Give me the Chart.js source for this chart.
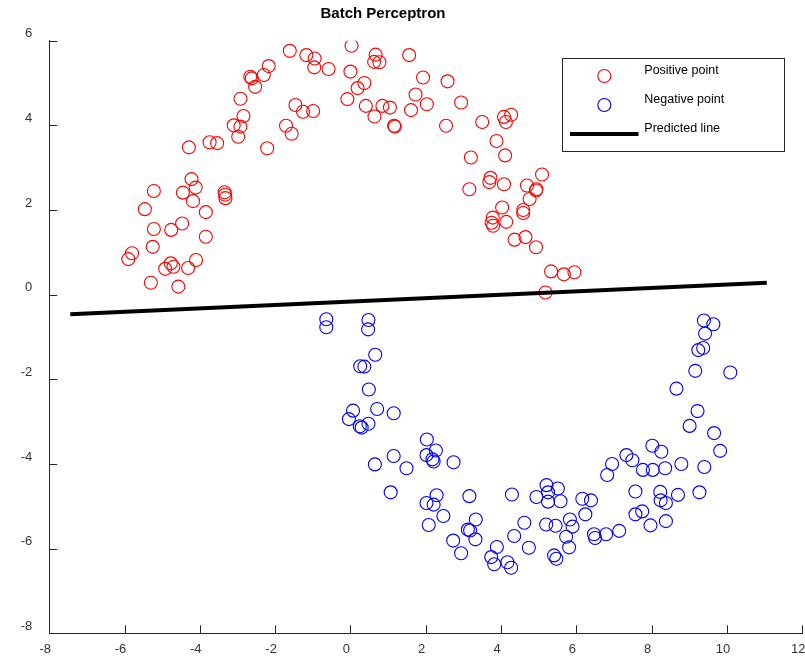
<!DOCTYPE html>
<html>
<head>
<meta charset="utf-8">
<title>Batch Perceptron</title>
<script src="https://cdn.jsdelivr.net/npm/chart.js@4.4.1/dist/chart.umd.min.js"></script>
<style>
  html, body { margin: 0; padding: 0; background: #ffffff; }
  #wrap { width: 805px; height: 658px; }
</style>
</head>
<body>
<div id="wrap"><canvas id="chart" width="805" height="658"></canvas></div>
<script>
// Positive class samples (upper moon)
const posX = [-5.90,-5.80,-5.30,-4.57,-4.92,-4.77,-4.70,-4.31,-4.10,-5.25,
              -5.22,-4.76,-4.47,-3.84,-3.84,-5.46,-5.22,-4.45,-4.22,-4.11,
              -4.18,-3.34,-3.33,-3.32,-4.29,-3.74,-3.54,-3.10,-2.92,-2.98,
              -2.84,-2.92,-2.66,-2.62,-2.53,-2.30,-2.17,-2.21,-1.61,-1.17,
              -0.95,-0.96,-0.58,-1.71,-1.56,-1.46,-1.26,-0.99,0.03,0.00,
              0.19,0.37,-0.08,0.41,0.64,0.67,0.63,0.77,0.85,1.05,
              1.16,1.18,1.56,1.93,2.58,1.73,1.61,2.03,2.94,2.54,
              3.50,4.08,4.27,4.13,3.88,3.20,4.11,5.09,3.72,3.69,
              4.08,4.69,4.94,4.93,4.76,3.16,4.03,4.59,4.59,3.78,
              3.75,3.79,4.14,4.36,4.65,4.93,5.33,5.67,5.95,5.18];
const posY = [0.84,0.98,0.28,0.19,0.61,0.74,0.66,0.63,0.82,1.13,
              1.55,1.53,1.68,1.37,1.95,2.02,2.45,2.41,2.73,2.53,
              2.21,2.42,2.36,2.28,3.48,3.60,3.58,4.00,3.97,3.73,
              4.22,4.63,5.15,5.11,4.91,5.19,5.40,3.46,5.76,5.66,
              5.58,5.37,5.33,3.99,3.80,4.48,4.32,4.34,5.88,5.27,
              4.88,5.00,4.62,4.46,4.21,5.67,5.50,5.49,4.46,4.42,
              3.99,3.97,5.66,5.13,5.04,4.73,4.36,4.50,4.54,3.99,
              4.08,4.20,4.25,4.08,3.63,3.24,3.29,2.84,2.76,2.66,
              2.61,2.58,2.49,2.46,2.26,2.49,2.06,2.00,1.93,1.82,
              1.70,1.63,1.72,1.30,1.36,1.12,0.55,0.48,0.53,0.05];

// Negative class samples (lower moon)
const negX = [-0.64,-0.64,0.48,0.47,0.66,0.26,0.37,0.49,0.07,-0.04,
              0.71,1.15,0.48,0.25,0.30,1.15,0.65,1.07,2.03,2.02,
              2.27,2.18,2.21,1.49,2.74,2.29,2.02,2.21,2.47,2.08,
              3.16,3.33,3.12,3.18,3.32,2.73,2.94,4.29,4.62,4.35,
              4.74,3.89,3.74,3.82,4.17,4.27,5.21,5.51,4.94,5.25,
              5.25,5.58,5.20,5.45,5.73,5.81,5.41,5.47,5.83,5.90,
              6.16,6.39,6.24,6.47,6.50,6.79,7.14,6.82,6.95,7.33,
              7.49,7.77,8.03,8.02,8.26,8.36,8.79,7.57,8.23,8.24,
              8.38,8.70,9.27,9.40,9.82,9.66,9.01,9.22,8.66,9.16,
              10.09,9.24,9.37,9.42,9.39,9.64,7.57,7.75,7.97,8.38];
const negY = [-0.58,-0.77,-0.60,-0.82,-1.42,-1.69,-1.70,-2.24,-2.74,-2.94,
              -2.70,-2.80,-3.05,-3.11,-3.14,-3.81,-4.01,-4.67,-3.42,-3.79,
              -3.68,-3.89,-3.94,-4.10,-3.96,-4.74,-4.92,-4.96,-5.23,-5.44,
              -4.76,-5.31,-5.55,-5.57,-5.78,-5.81,-6.11,-4.72,-5.39,-5.70,
              -5.98,-5.96,-6.20,-6.37,-6.32,-6.45,-4.50,-4.58,-4.78,-4.67,
              -4.89,-4.88,-5.43,-5.46,-5.72,-5.97,-6.16,-6.24,-5.31,-5.48,
              -4.82,-4.86,-5.19,-5.66,-5.75,-5.66,-5.58,-4.26,-4.00,-3.79,
              -3.91,-4.14,-4.14,-3.57,-3.71,-4.10,-4.00,-4.65,-4.66,-4.86,
              -4.92,-4.73,-4.67,-4.07,-3.69,-3.27,-3.10,-2.75,-2.22,-1.80,
              -1.84,-1.31,-1.26,-0.92,-0.61,-0.70,-5.19,-5.12,-5.45,-5.35];

// Decision boundary found by the batch perceptron (end points)
const lineX = [-7.44, 11.06];
const lineY = [-0.46, 0.28];

// Axis ticks
const xTicks = [-8, -6, -4, -2, 0, 2, 4, 6, 8, 10, 12];
const yTicks = [-8, -6, -4, -2, 0, 2, 4, 6];

const titleText = 'Batch Perceptron';
const seriesNames = ['Positive point', 'Negative point', 'Predicted line'];

const FONT = "'Liberation Sans', Arial, Helvetica, sans-serif";
const AXIS_COLOR = '#262626';
const RED = '#ff0000';
const BLUE = '#0000ff';
const MARK_R = 6.5;

const zip = (xs, ys) => xs.map((v, i) => ({ x: v, y: ys[i] }));

// keep the axis boxes at a fixed size with no extra room for end labels
function fixBox(s, w, h) {
  if (w != null) s.width = w;
  if (h != null) s.height = h;
  s.paddingLeft = 0;
  s.paddingRight = 0;
  s.paddingTop = 0;
  s.paddingBottom = 0;
}

// Inward tick marks, title and the boxed legend
const decorations = {
  id: 'decorations',
  afterDraw(chart) {
    const { ctx, chartArea: a, scales: { x, y } } = chart;
    ctx.save();

    // tick marks pointing into the plot
    ctx.strokeStyle = AXIS_COLOR;
    ctx.lineWidth = 1;
    ctx.beginPath();
    xTicks.forEach(v => {
      const p = Math.round(x.getPixelForValue(v)) + 0.5;
      ctx.moveTo(p, a.bottom);
      ctx.lineTo(p, a.bottom - 8);
    });
    yTicks.forEach(v => {
      const p = Math.round(y.getPixelForValue(v)) + 0.5;
      ctx.moveTo(a.left, p);
      ctx.lineTo(a.left + 8, p);
    });
    ctx.stroke();

    // title
    ctx.fillStyle = '#000000';
    ctx.font = 'bold 15px ' + FONT;
    ctx.textAlign = 'center';
    ctx.textBaseline = 'middle';
    ctx.fillText(titleText, 383, 14);

    // legend box
    const box = { left: 562.5, top: 58.5, right: 784.5, bottom: 151.5 };
    ctx.fillStyle = '#ffffff';
    ctx.fillRect(box.left, box.top, box.right - box.left, box.bottom - box.top);
    ctx.strokeStyle = AXIS_COLOR;
    ctx.lineWidth = 1;
    ctx.strokeRect(box.left, box.top, box.right - box.left, box.bottom - box.top);

    const ds = chart.data.datasets;
    const rows = [
      { ds: ds.find(d => d.label === seriesNames[0]), markY: 76, textY: 71 },
      { ds: ds.find(d => d.label === seriesNames[1]), markY: 105, textY: 100 },
      { ds: ds.find(d => d.label === seriesNames[2]), markY: 134, textY: 129 }
    ];
    rows.forEach(r => {
      ctx.strokeStyle = r.ds.borderColor;
      ctx.lineWidth = r.ds.borderWidth;
      ctx.beginPath();
      if (r.ds.showLine) {
        ctx.moveTo(570, r.markY);
        ctx.lineTo(638.5, r.markY);
      } else {
        ctx.arc(604.3, r.markY, MARK_R, 0, Math.PI * 2);
      }
      ctx.stroke();
      ctx.fillStyle = '#000000';
      ctx.font = '12.5px ' + FONT;
      ctx.textAlign = 'left';
      ctx.textBaseline = 'middle';
      ctx.fillText(r.ds.label, 644.3, r.textY);
    });

    ctx.restore();
  }
};

new Chart(document.getElementById('chart'), {
  type: 'scatter',
  data: {
    datasets: [
      {
        label: seriesNames[2],
        data: zip(lineX, lineY),
        showLine: true,
        borderColor: '#000000',
        backgroundColor: '#000000',
        borderWidth: 4,
        pointRadius: 0,
        order: 0
      },
      {
        label: seriesNames[0],
        data: zip(posX, posY),
        pointStyle: 'circle',
        pointRadius: MARK_R,
        pointHoverRadius: MARK_R,
        borderColor: RED,
        backgroundColor: 'rgba(0,0,0,0)',
        borderWidth: 1.1,
        order: 1
      },
      {
        label: seriesNames[1],
        data: zip(negX, negY),
        pointStyle: 'circle',
        pointRadius: MARK_R,
        pointHoverRadius: MARK_R,
        borderColor: BLUE,
        backgroundColor: 'rgba(0,0,0,0)',
        borderWidth: 1.1,
        order: 2
      }
    ]
  },
  options: {
    responsive: false,
    animation: false,
    devicePixelRatio: 1,
    layout: { autoPadding: false, padding: { top: 40.7, right: 2.8, bottom: 0, left: 0 } },
    plugins: {
      legend: { display: false },
      title: { display: false },
      tooltip: { enabled: false }
    },
    scales: {
      x: {
        type: 'linear',
        min: -8,
        max: 12,
        afterBuildTicks: s => { s.ticks = xTicks.map(v => ({ value: v })); },
        afterFit: s => fixBox(s, null, 24.7),
        grid: { display: false, drawTicks: false },
        border: { display: true, color: AXIS_COLOR, width: 1 },
        ticks: {
          color: '#333333',
          font: { family: FONT, size: 13 },
          padding: 8,
          labelOffset: -4,
          maxRotation: 0,
          autoSkip: false
        }
      },
      y: {
        type: 'linear',
        min: -8,
        max: 6,
        afterBuildTicks: s => { s.ticks = yTicks.map(v => ({ value: v })); },
        afterFit: s => fixBox(s, 49.2, null),
        grid: { display: false, drawTicks: false },
        border: { display: true, color: AXIS_COLOR, width: 1 },
        ticks: {
          color: '#333333',
          font: { family: FONT, size: 13 },
          padding: 17,
          labelOffset: -7,
          autoSkip: false
        }
      }
    }
  },
  plugins: [decorations]
});
</script>
</body>
</html>
